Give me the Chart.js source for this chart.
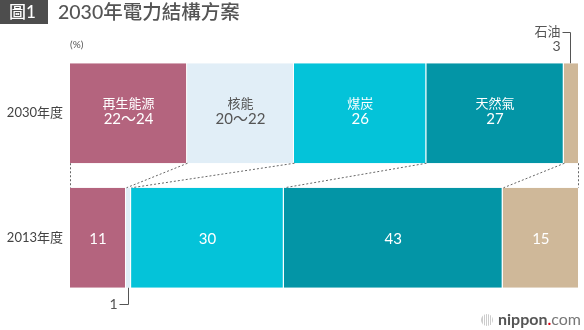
<!DOCTYPE html>
<html>
<head>
<meta charset="utf-8">
<title>2030年電力結構方案</title>
<script src="https://cdn.jsdelivr.net/npm/chart.js"></script>
<style>
  html, body { margin: 0; padding: 0; background: #fff; }
  #wrap { width: 584px; height: 330px; position: relative; }
</style>
</head>
<body>
<div id="wrap"><canvas id="mixChart"></canvas></div>
<script>
// data (%)
const years = ['2030年度', '2013年度'];
const sources = ['再生能源', '核能', '煤炭', '天然氣', '石油'];
const values2030 = [23, 21, 26, 27, 3];
const labels2030 = ['22～24', '20～22', '26', '27', '3'];
const values2013 = [11, 1, 30, 43, 15];
const colors = ['#b4647e', '#e1eef7', '#04c3d9', '#0395a6', '#cfb899'];
const textColors = ['#fff', '#555', '#fff', '#fff', '#fff'];

const FONT = "Lato, 'Noto Sans CJK TC', sans-serif";

const extras = {
  id: 'extras',
  afterDatasetsDraw(chart) {
    const ctx = chart.ctx;
    const bars = sources.map((s, i) => chart.getDatasetMeta(i).data);
    const p = (el) => el.getProps(['x', 'base', 'y', 'height'], true);

    // labels inside the bars
    ctx.save();
    ctx.textAlign = 'center';
    ctx.textBaseline = 'middle';
    sources.forEach((name, i) => {
      const a = p(bars[i][0]);
      if (values2030[i] >= 10) {
        const cx = (a.x + a.base) / 2;
        ctx.fillStyle = textColors[i];
        ctx.font = '13px ' + FONT;
        ctx.fillText(name, cx, a.y - 9);
        ctx.font = '15px ' + FONT;
        ctx.fillText(labels2030[i], cx, a.y + 6);
      }
      const b = p(bars[i][1]);
      if (values2013[i] >= 10) {
        ctx.fillStyle = textColors[i];
        ctx.font = '15px ' + FONT;
        ctx.fillText(String(values2013[i]), (b.x + b.base) / 2, b.y + 1);
      }
    });
    ctx.restore();

    // dashed connectors between the two bars
    ctx.save();
    ctx.strokeStyle = '#666';
    ctx.lineWidth = 1;
    ctx.setLineDash([2, 2]);
    for (let k = 0; k <= sources.length; k++) {
      const top = p(bars[Math.min(k, sources.length - 1)][0]);
      const bot = p(bars[Math.min(k, sources.length - 1)][1]);
      const x1 = k < sources.length ? top.base : top.x - 1;
      const x2 = k < sources.length ? bot.base : bot.x - 1;
      ctx.beginPath();
      ctx.moveTo(Math.round(x1) + 0.5, top.y + top.height / 2);
      ctx.lineTo(Math.round(x2) + 0.5, bot.y - bot.height / 2);
      ctx.stroke();
    }
    ctx.restore();

    // callouts for the thin segments
    ctx.save();
    ctx.strokeStyle = '#555';
    ctx.lineWidth = 1;
    ctx.fillStyle = '#555';
    ctx.font = '13px ' + FONT;
    ctx.textAlign = 'right';
    ctx.textBaseline = 'middle';
    const oil = p(bars[4][0]);
    const ox = Math.round((oil.x + oil.base) / 2) - 0.5;
    ctx.beginPath();
    ctx.moveTo(ox, oil.y - oil.height / 2);
    ctx.lineTo(ox, 32.5);
    ctx.lineTo(ox - 8, 32.5);
    ctx.stroke();
    ctx.fillText(sources[4], ox - 10, 32);
    ctx.font = '14px ' + FONT;
    ctx.fillText(String(values2030[4]), ox - 10, 46);

    const nuc = p(bars[1][1]);
    const nx = Math.round((nuc.x + nuc.base) / 2) - 0.5;
    ctx.beginPath();
    ctx.moveTo(nx, nuc.y + nuc.height / 2);
    ctx.lineTo(nx, 304.5);
    ctx.lineTo(nx - 9, 304.5);
    ctx.stroke();
    ctx.fillText(String(values2013[1]), nx - 11, 304);
    ctx.restore();

    // title
    ctx.save();
    ctx.fillStyle = '#4d4d4d';
    ctx.fillRect(0, 0, 48, 24);
    ctx.fillStyle = '#fff';
    ctx.font = '500 17px ' + FONT;
    ctx.textBaseline = 'middle';
    ctx.fillText('圖1', 9, 12.5);
    ctx.fillStyle = '#555';
    ctx.font = '500 19.5px ' + FONT;
    ctx.fillText('2030年電力結構方案', 58, 12.5);
    ctx.font = '10px ' + FONT;
    ctx.fillText('(%)', 70, 45);

    // logo
    ctx.fillStyle = '#ccc';
    ctx.beginPath();
    ctx.arc(487, 320, 6, 0, Math.PI * 2);
    ctx.fill();
    ctx.strokeStyle = '#fff';
    for (let i = -4; i <= 4; i += 2) {
      ctx.beginPath();
      ctx.moveTo(487.5 + i, 313);
      ctx.lineTo(487.5 + i, 327);
      ctx.stroke();
    }
    ctx.font = 'bold 16px ' + FONT;
    ctx.fillStyle = '#555';
    ctx.textBaseline = 'middle';
    let tx = 498;
    ctx.fillText('nippon', tx, 320);
    tx += ctx.measureText('nippon').width;
    ctx.fillStyle = '#e60012';
    ctx.fillText('.', tx, 320);
    tx += ctx.measureText('.').width;
    ctx.font = '16px ' + FONT;
    ctx.fillStyle = '#777';
    ctx.fillText('com', tx, 320);
    ctx.restore();
  }
};

new Chart(document.getElementById('mixChart'), {
  type: 'bar',
  data: {
    labels: years,
    datasets: sources.map((name, i) => ({
      label: name,
      data: [values2030[i], values2013[i]],
      backgroundColor: colors[i],
      borderColor: '#fff',
      borderWidth: { left: 0, right: 1, top: 0, bottom: 0 },
      borderSkipped: false,
      barPercentage: 0.803,
      categoryPercentage: 1
    }))
  },
  options: {
    indexAxis: 'y',
    responsive: true,
    maintainAspectRatio: false,
    animation: false,
    layout: { padding: { top: 51, bottom: 30, right: 5, left: 0 } },
    plugins: { legend: { display: false }, tooltip: { enabled: false } },
    scales: {
      x: { stacked: true, min: 0, max: 100, display: false },
      y: {
        stacked: true,
        grid: { display: false, drawTicks: false },
        border: { display: false },
        ticks: { color: '#444', font: { family: FONT, size: 13 }, padding: 7 },
        afterFit(scale) { scale.width = 70; }
      }
    }
  },
  plugins: [extras]
});
</script>
</body>
</html>
